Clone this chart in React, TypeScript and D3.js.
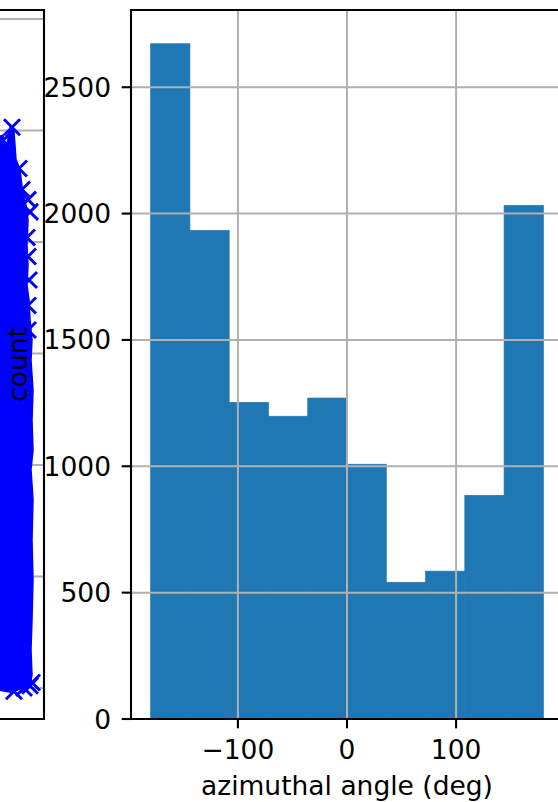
import React from "react";
import * as d3 from "d3";

// Right panel: histogram of azimuthal angle
const binEdges = [-180, -144, -108, -72, -36, 0, 36, 72, 108, 144, 180];
const counts = [2672, 1933, 1253, 1198, 1270, 1008, 541, 585, 885, 2032];
const xTicks = [-100, 0, 100];
const yTicks = [0, 500, 1000, 1500, 2000, 2500];

// Left panel (cropped): dense scatter cloud outline + outlier markers
const leftGrid = [0, 1, 2, 3, 4, 5, 6];
const cloudX = [46, 59, 62, 66, 70, 72, 76, 79, 82, 84, 83, 84, 83, 85, 86, 88, 87, 89, 88, 89, 87, 89, 88, 89, 88, 87, 88, 86, 83, 78, 68, 56, 46];
const cloudY = [4.91, 4.96, 4.83, 5.02, 4.99, 4.74, 4.65, 4.42, 4.33, 4.2, 3.97, 3.79, 3.61, 3.48, 3.3, 3.12, 2.94, 2.67, 2.4, 2.13, 1.96, 1.69, 1.33, 0.97, 0.61, 0.34, 0.12, 0.02, -0.02, 0, -0.04, -0.02, -0.02];
const outlierX = [68, 59, 75, 78, 84, 86, 83, 84, 85, 84, 84, 88, 86, 80, 70];
const outlierY = [5.03, 4.91, 4.66, 4.47, 4.38, 4.27, 4.04, 3.87, 3.66, 3.43, 3.21, 0.05, 0.02, 0.0, -0.03];

const FONT = "'DejaVu Sans', sans-serif";
const FS = 26.5;

export default function App() {
  const W = 558, H = 802;
  // right axes
  const rL = 131, rT = 10, rB = 719, rR = 563;
  const x = d3.scaleLinear().domain([-198, 198]).range([rL, rR]);
  const ymax = 2672 * 1.05;
  const y = d3.scaleLinear().domain([0, ymax]).range([rB, rT]);
  // left axes
  const lR = 44, lT = 10, lB = 719;
  const lx = d3.scaleLinear().domain([0, 100]).range([-56, 44]);
  const ly = d3.scaleLinear().domain([0, 6]).range([688, 19]);
  const cloudPts: [number, number][] = cloudX.map((v, i) => [lx(v), ly(cloudY[i])]);
  const cloudPath = d3.line()(cloudPts) + "Z";
  const grid = "#b0b0b0";
  const fmt = (v: number) => (v < 0 ? "\u2212" + Math.abs(v) : String(v));

  return (
    <svg width={W} height={H} style={{ position: "fixed", left: 0, top: 0, background: "#fff" }} fontFamily={FONT}>
      <rect x={0} y={0} width={W} height={H} fill="#fff" />
      {/* Left panel */}
      <g>
        {leftGrid.map((g) => (
          <line key={g} x1={-10} x2={lR} y1={ly(g)} y2={ly(g)} stroke={grid} strokeWidth={2} />
        ))}
        <path d={cloudPath} fill="#0000ff" stroke="#0000ff" strokeWidth={1.5} />
        {outlierX.map((v, i) => (
          <path
            key={i}
            transform={`translate(${lx(v)},${ly(outlierY[i])})`}
            d="M-8,-8L8,8M-8,8L8,-8"
            stroke="#0000ff"
            strokeWidth={2.9}
            fill="none"
          />
        ))}
        <line x1={-10} x2={lR} y1={lT} y2={lT} stroke="#000" strokeWidth={2.1} />
        <line x1={-10} x2={lR} y1={lB} y2={lB} stroke="#000" strokeWidth={2.1} />
        <line x1={lR} x2={lR} y1={lT} y2={lB} stroke="#000" strokeWidth={2.1} strokeLinecap="square" />
      </g>
      {/* Right panel */}
      <g>
        {counts.map((c, i) => (
          <rect
            key={i}
            x={x(binEdges[i])}
            width={x(binEdges[i + 1]) - x(binEdges[i])}
            y={y(c)}
            height={y(0) - y(c)}
            fill="#1f77b4"
            stroke="#1f77b4"
            strokeWidth={0.7}
          />
        ))}
        {xTicks.map((t) => (
          <line key={"gx" + t} x1={x(t)} x2={x(t)} y1={rT} y2={rB} stroke={grid} strokeWidth={2} />
        ))}
        {yTicks.map((t) => (
          <line key={"gy" + t} x1={rL} x2={rR} y1={y(t)} y2={y(t)} stroke={grid} strokeWidth={2} />
        ))}
        <line x1={rL} x2={rR} y1={rT} y2={rT} stroke="#000" strokeWidth={2.1} />
        <line x1={rL} x2={rR} y1={rB} y2={rB} stroke="#000" strokeWidth={2.1} />
        <line x1={rL} x2={rL} y1={rT} y2={rB} stroke="#000" strokeWidth={2.1} strokeLinecap="square" />
        {yTicks.map((t) => (
          <g key={"ty" + t}>
            <line x1={rL - 9.3} x2={rL} y1={y(t)} y2={y(t)} stroke="#000" strokeWidth={2.1} />
            <text x={rL - 20} y={y(t)} dy="0.36em" textAnchor="end" fontSize={FS} fill="#000">
              {fmt(t)}
            </text>
          </g>
        ))}
        {xTicks.map((t) => (
          <g key={"tx" + t}>
            <line x1={x(t)} x2={x(t)} y1={rB} y2={rB + 9.3} stroke="#000" strokeWidth={2.1} />
            <text x={x(t)} y={759} textAnchor="middle" fontSize={FS} fill="#000">
              {fmt(t)}
            </text>
          </g>
        ))}
        <text x={347} y={795} textAnchor="middle" fontSize={FS} fill="#000">
          azimuthal angle (deg)
        </text>
        <text transform={`translate(27,${(rT + rB) / 2}) rotate(-90)`} textAnchor="middle" fontSize={FS} fill="#000">
          count
        </text>
      </g>
    </svg>
  );
}
